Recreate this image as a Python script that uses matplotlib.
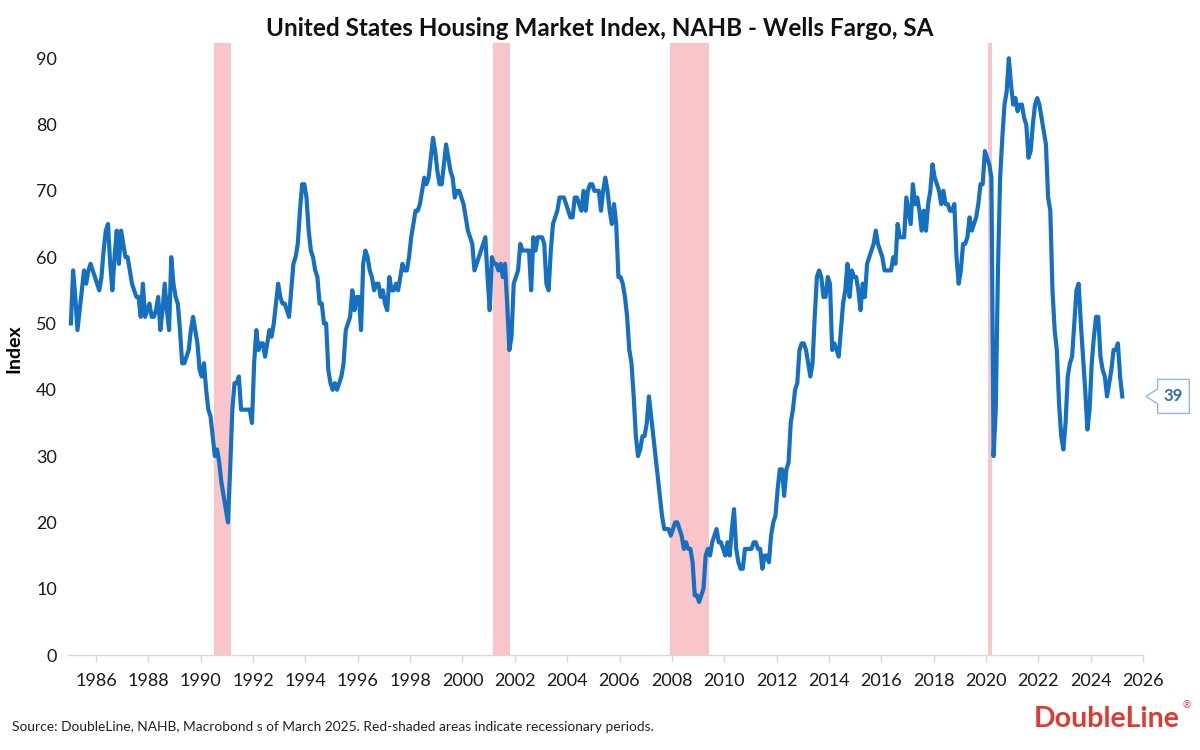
import numpy as np
import matplotlib
matplotlib.use("Agg")
import matplotlib.pyplot as plt
import matplotlib.transforms as mtransforms
from matplotlib.patches import Polygon

plt.rcParams['font.family'] = ['Lato', 'DejaVu Sans']

# ---------------- data (monthly NAHB HMI, SA) ----------------
start_year = 1985
hmi_1985_1989 = [50, 58, 54, 49, 52, 55, 58, 56, 58, 59, 58, 57,
                 56, 55, 57, 61, 64, 65, 59, 55, 60, 64, 59, 64,
                 62, 60, 60, 58, 56, 55, 54, 54, 51, 56, 51, 52,
                 53, 51, 51, 52, 54, 49, 52, 56, 52, 49, 60, 56,
                 54, 53, 49, 44, 44, 45, 46, 49, 51, 49, 47, 43]
hmi_1990_1994 = [42, 44, 40, 37, 36, 33, 30, 31, 29, 26, 24, 22,
                 20, 28, 37, 41, 41, 42, 37, 37, 37, 37, 37, 35,
                 44, 49, 46, 47, 47, 45, 47, 49, 48, 50, 53, 56,
                 54, 53, 53, 52, 51, 55, 59, 60, 62, 67, 71, 71,
                 69, 64, 61, 60, 58, 57, 53, 53, 50, 50, 43, 41]
hmi_1995_1999 = [40, 41, 40, 41, 42, 44, 49, 50, 51, 55, 52, 54,
                 54, 49, 59, 61, 60, 58, 57, 55, 56, 56, 54, 55,
                 53, 52, 57, 55, 55, 56, 55, 57, 59, 58, 58, 60,
                 63, 65, 67, 67, 68, 70, 72, 71, 72, 75, 78, 76,
                 73, 71, 71, 74, 77, 75, 73, 72, 69, 70, 70, 69]
hmi_2000_2004 = [68, 66, 64, 63, 62, 58, 59, 60, 61, 62, 63, 57,
                 52, 60, 59, 59, 58, 59, 57, 59, 53, 46, 48, 56,
                 57, 58, 62, 61, 61, 61, 61, 55, 63, 61, 63, 63,
                 63, 62, 56, 55, 61, 65, 66, 67, 69, 69, 69, 68,
                 67, 66, 66, 69, 69, 68, 67, 70, 67, 70, 71, 71]
hmi_2005_2009 = [70, 70, 70, 67, 70, 72, 70, 67, 65, 68, 65, 57,
                 57, 56, 54, 51, 46, 44, 39, 33, 30, 31, 33, 33,
                 35, 39, 36, 33, 30, 27, 24, 21, 19, 19, 19, 18,
                 19, 20, 20, 19, 18, 16, 17, 16, 16, 14, 9, 9,
                 8, 9, 10, 15, 16, 15, 17, 18, 19, 17, 17, 16]
hmi_2010_2014 = [15, 17, 15, 19, 22, 16, 14, 13, 13, 16, 16, 16,
                 16, 17, 17, 16, 16, 13, 15, 15, 14, 18, 20, 21,
                 25, 28, 28, 24, 28, 29, 35, 37, 40, 41, 46, 47,
                 47, 46, 44, 42, 44, 51, 57, 58, 57, 54, 54, 57,
                 56, 46, 47, 46, 45, 49, 53, 55, 59, 54, 58, 57]
hmi_2015_2019 = [57, 55, 52, 56, 54, 59, 60, 61, 62, 64, 62, 61,
                 60, 58, 58, 58, 58, 60, 59, 65, 63, 63, 63, 69,
                 67, 65, 71, 68, 69, 67, 64, 67, 64, 68, 70, 74,
                 72, 71, 70, 68, 70, 68, 68, 67, 67, 68, 60, 56,
                 58, 62, 62, 63, 66, 64, 65, 66, 68, 71, 71, 76]
hmi_2020_2024 = [75, 74, 72, 30, 37, 58, 72, 78, 83, 85, 90, 86,
                 83, 84, 82, 83, 83, 81, 80, 75, 76, 80, 83, 84,
                 83, 81, 79, 77, 69, 67, 55, 49, 46, 38, 33, 31,
                 35, 42, 44, 45, 50, 55, 56, 50, 45, 40, 34, 37,
                 44, 48, 51, 51, 45, 43, 42, 39, 41, 43, 46, 46]
hmi_2025 = [47, 42, 39]

recession_starts = ["1990-07", "2001-03", "2007-12", "2020-02"]
recession_ends = ["1991-03", "2001-11", "2009-06", "2020-04"]

year_ticks = list(range(1986, 2027, 2))
y_ticks = list(range(0, 91, 10))

title = "United States Housing Market Index, NAHB - Wells Fargo, SA"
y_label = "Index"
source = ("Source: DoubleLine, NAHB, Macrobond s of March 2025. "
          "Red-shaded areas indicate recessionary periods.")

# ---------------- build ----------------
values = np.array(hmi_1985_1989 + hmi_1990_1994 + hmi_1995_1999 +
                  hmi_2000_2004 + hmi_2005_2009 + hmi_2010_2014 +
                  hmi_2015_2019 + hmi_2020_2024 + hmi_2025, dtype=float)
x = start_year + (np.arange(len(values)) + 0.5) / 12.0


def to_dec(s):
    y, m = s.split("-")
    return int(y) + (int(m) - 1) / 12.0


LINE = '#1570c2'
BAND = '#fac5c9'
GRAY = '#d9d9d9'

fig = plt.figure(figsize=(12, 7.5), dpi=100)
ax = fig.add_axes([68 / 1200, 95 / 750, (1143 - 68) / 1200, (655 - 43) / 750])

for s, e in zip(recession_starts, recession_ends):
    ax.axvspan(to_dec(s), to_dec(e), color=BAND, lw=0, zorder=0)

ax.plot(x, values, color=LINE, lw=3.0, solid_joinstyle='round', zorder=3)

ax.set_xlim(1984.93, 2026.0)
ax.set_ylim(0, 92.3)
ax.set_xticks(year_ticks)
ax.set_xticklabels([str(y) for y in year_ticks])
ax.set_yticks(y_ticks)

for side in ['top', 'right', 'left']:
    ax.spines[side].set_visible(False)
ax.spines['bottom'].set_color(GRAY)
ax.spines['bottom'].set_linewidth(1.0)
ax.tick_params(axis='x', direction='out', length=5, width=1, color=GRAY,
               labelsize=13, pad=8, labelcolor='#1a1a1a')
ax.tick_params(axis='y', length=0, labelsize=13, pad=8, labelcolor='#1a1a1a')

ax.set_ylabel(y_label, fontsize=14, fontweight='bold', labelpad=10)

fig.text(0.5, 1 - 28 / 750, title, ha='center', va='center',
         fontsize=17.5, fontweight='bold', color='#111111')
fig.text(12 / 1200, 1 - 727 / 750, source, ha='left', va='center',
         fontsize=9.9, color='#222222')
fig.text(1180 / 1200, 1 - 719 / 750, "DoubleLine", ha='right', va='center',
         fontsize=20.5, fontweight='bold', color='#e03a30')
fig.text(1187 / 1200, 1 - 706 / 750, "®", ha='center', va='center',
         fontsize=7, color='#e03a30')

# ---------------- last-value callout ----------------
last_val = values[-1]
tip = ax.transData.transform((2026.0, last_val)) + np.array([3.0, 0.0])
bx0, bx1, h, nb = 11.7, 43.3, 17.0, 7.5
verts = np.array([[0, 0], [bx0, nb], [bx0, h], [bx1, h], [bx1, -h],
                  [bx0, -h], [bx0, -nb]]) + tip
poly = Polygon(verts, closed=True, facecolor='white', edgecolor='#8fb9e2',
               lw=1.0, transform=mtransforms.IdentityTransform(), clip_on=False)
fig.add_artist(poly)
fig.text((tip[0] + (bx0 + bx1) / 2) / 1200, tip[1] / 750, f"{last_val:.0f}",
         ha='center', va='center', fontsize=12, fontweight='bold',
         color='#2a6fb5')

fig.savefig("out.png", dpi=100)
